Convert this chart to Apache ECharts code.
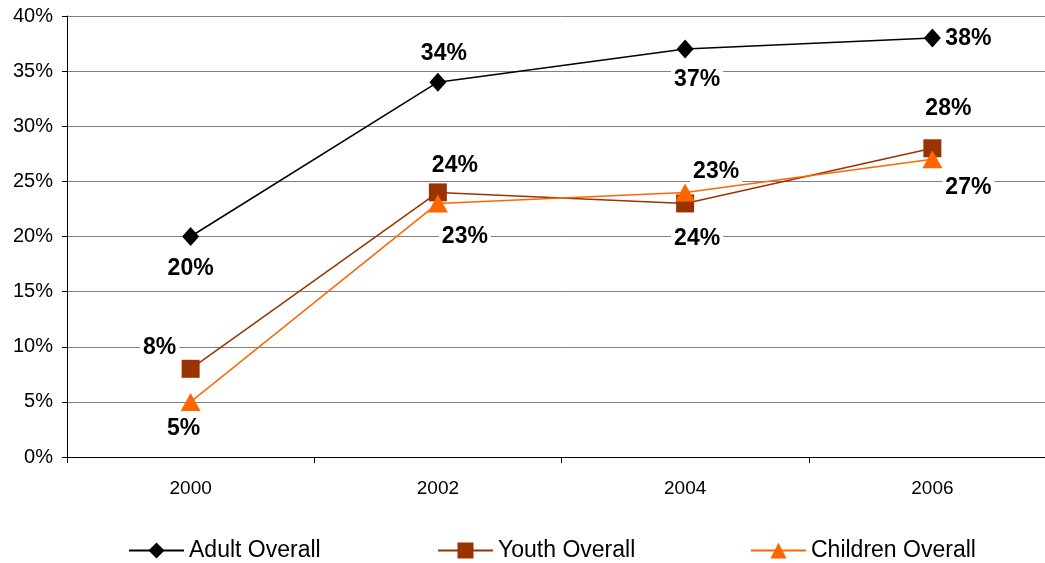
<!DOCTYPE html>
<html>
<head>
<meta charset="utf-8">
<script src="https://cdn.jsdelivr.net/npm/echarts@6/dist/echarts.min.js"></script>
<style>html,body{margin:0;padding:0;background:#fff;overflow:hidden;}#c{width:1056px;height:563px;}</style>
</head>
<body>
<div id="c"></div>
<script>
var categories = ['2000', '2002', '2004', '2006'];
var adult = [20, 34, 37, 38];
var youth = [8, 24, 23, 28];
var children = [5, 23, 24, 27];
var yTicks = [0, 5, 10, 15, 20, 25, 30, 35, 40];

// label offsets relative to each point (layout only)
var adultOff = [[0, 32], [6, -28], [12, 31], [36, 1]];
var youthOff = [[-31, -21], [17, -27], [31, -32], [16, -40]];
var childOff = [[-7, 27], [27, 33], [12, 46], [36, 28]];

function withLabels(vals, offs) {
  return vals.map(function (v, i) {
    return { value: v, label: { offset: offs[i] } };
  });
}

var labelStyle = {
  show: true,
  position: 'inside',
  formatter: '{c}%',
  fontFamily: 'Liberation Sans, Arial, sans-serif',
  fontWeight: 'bold',
  fontSize: 23,
  color: '#000',
  backgroundColor: '#fff',
  padding: [0, 3],
  align: 'center',
  verticalAlign: 'middle'
};

var chart = echarts.init(document.getElementById('c'), null, { renderer: 'canvas' });
var font = 'Liberation Sans, Arial, sans-serif';
var legendText = { fontFamily: font, fontSize: 23, color: '#000' };
chart.setOption({
  animation: false,
  backgroundColor: '#fff',
  grid: { left: 67, top: 16, bottom: 106, right: 0, containLabel: false },
  xAxis: {
    type: 'category',
    data: categories,
    boundaryGap: true,
    axisLine: { lineStyle: { color: '#000', width: 1 } },
    axisTick: { show: true, length: 6, lineStyle: { color: '#000' } },
    axisLabel: { fontFamily: font, fontSize: 19, color: '#000', margin: 22 },
    splitLine: { show: false }
  },
  yAxis: {
    type: 'value',
    min: yTicks[0],
    max: yTicks[yTicks.length - 1],
    interval: 5,
    axisLine: { show: true, lineStyle: { color: '#000', width: 1 } },
    axisTick: { show: true, length: 5, lineStyle: { color: '#000' } },
    axisLabel: { fontFamily: font, fontSize: 20, color: '#000', margin: 14, formatter: '{value}%' },
    splitLine: { show: true, lineStyle: { color: '#808080', width: 1 } }
  },
  legend: [
    { data: ['Adult Overall'], left: 128, top: 539, padding: 0, itemWidth: 55, itemHeight: 20, itemGap: 6, textStyle: legendText },
    { data: ['Youth Overall'], left: 437, top: 539, padding: 0, itemWidth: 55, itemHeight: 20, itemGap: 6, textStyle: legendText },
    { data: ['Children Overall'], left: 750, top: 539, padding: 0, itemWidth: 55, itemHeight: 20, itemGap: 6, textStyle: legendText }
  ],
  series: [
    {
      name: 'Adult Overall', type: 'line', data: withLabels(adult, adultOff),
      symbol: 'diamond', symbolSize: [17, 19],
      lineStyle: { color: '#000', width: 1.5 },
      itemStyle: { color: '#000' },
      label: labelStyle, z: 3
    },
    {
      name: 'Youth Overall', type: 'line', data: withLabels(youth, youthOff),
      symbol: 'rect', symbolSize: 18,
      lineStyle: { color: '#993300', width: 1.5 },
      itemStyle: { color: '#993300' },
      label: labelStyle, z: 4
    },
    {
      name: 'Children Overall', type: 'line', data: withLabels(children, childOff),
      symbol: 'triangle', symbolSize: [20, 18],
      lineStyle: { color: '#FF6600', width: 1.5 },
      itemStyle: { color: '#FF6600' },
      label: labelStyle, z: 5
    }
  ]
});
</script>
</body>
</html>
